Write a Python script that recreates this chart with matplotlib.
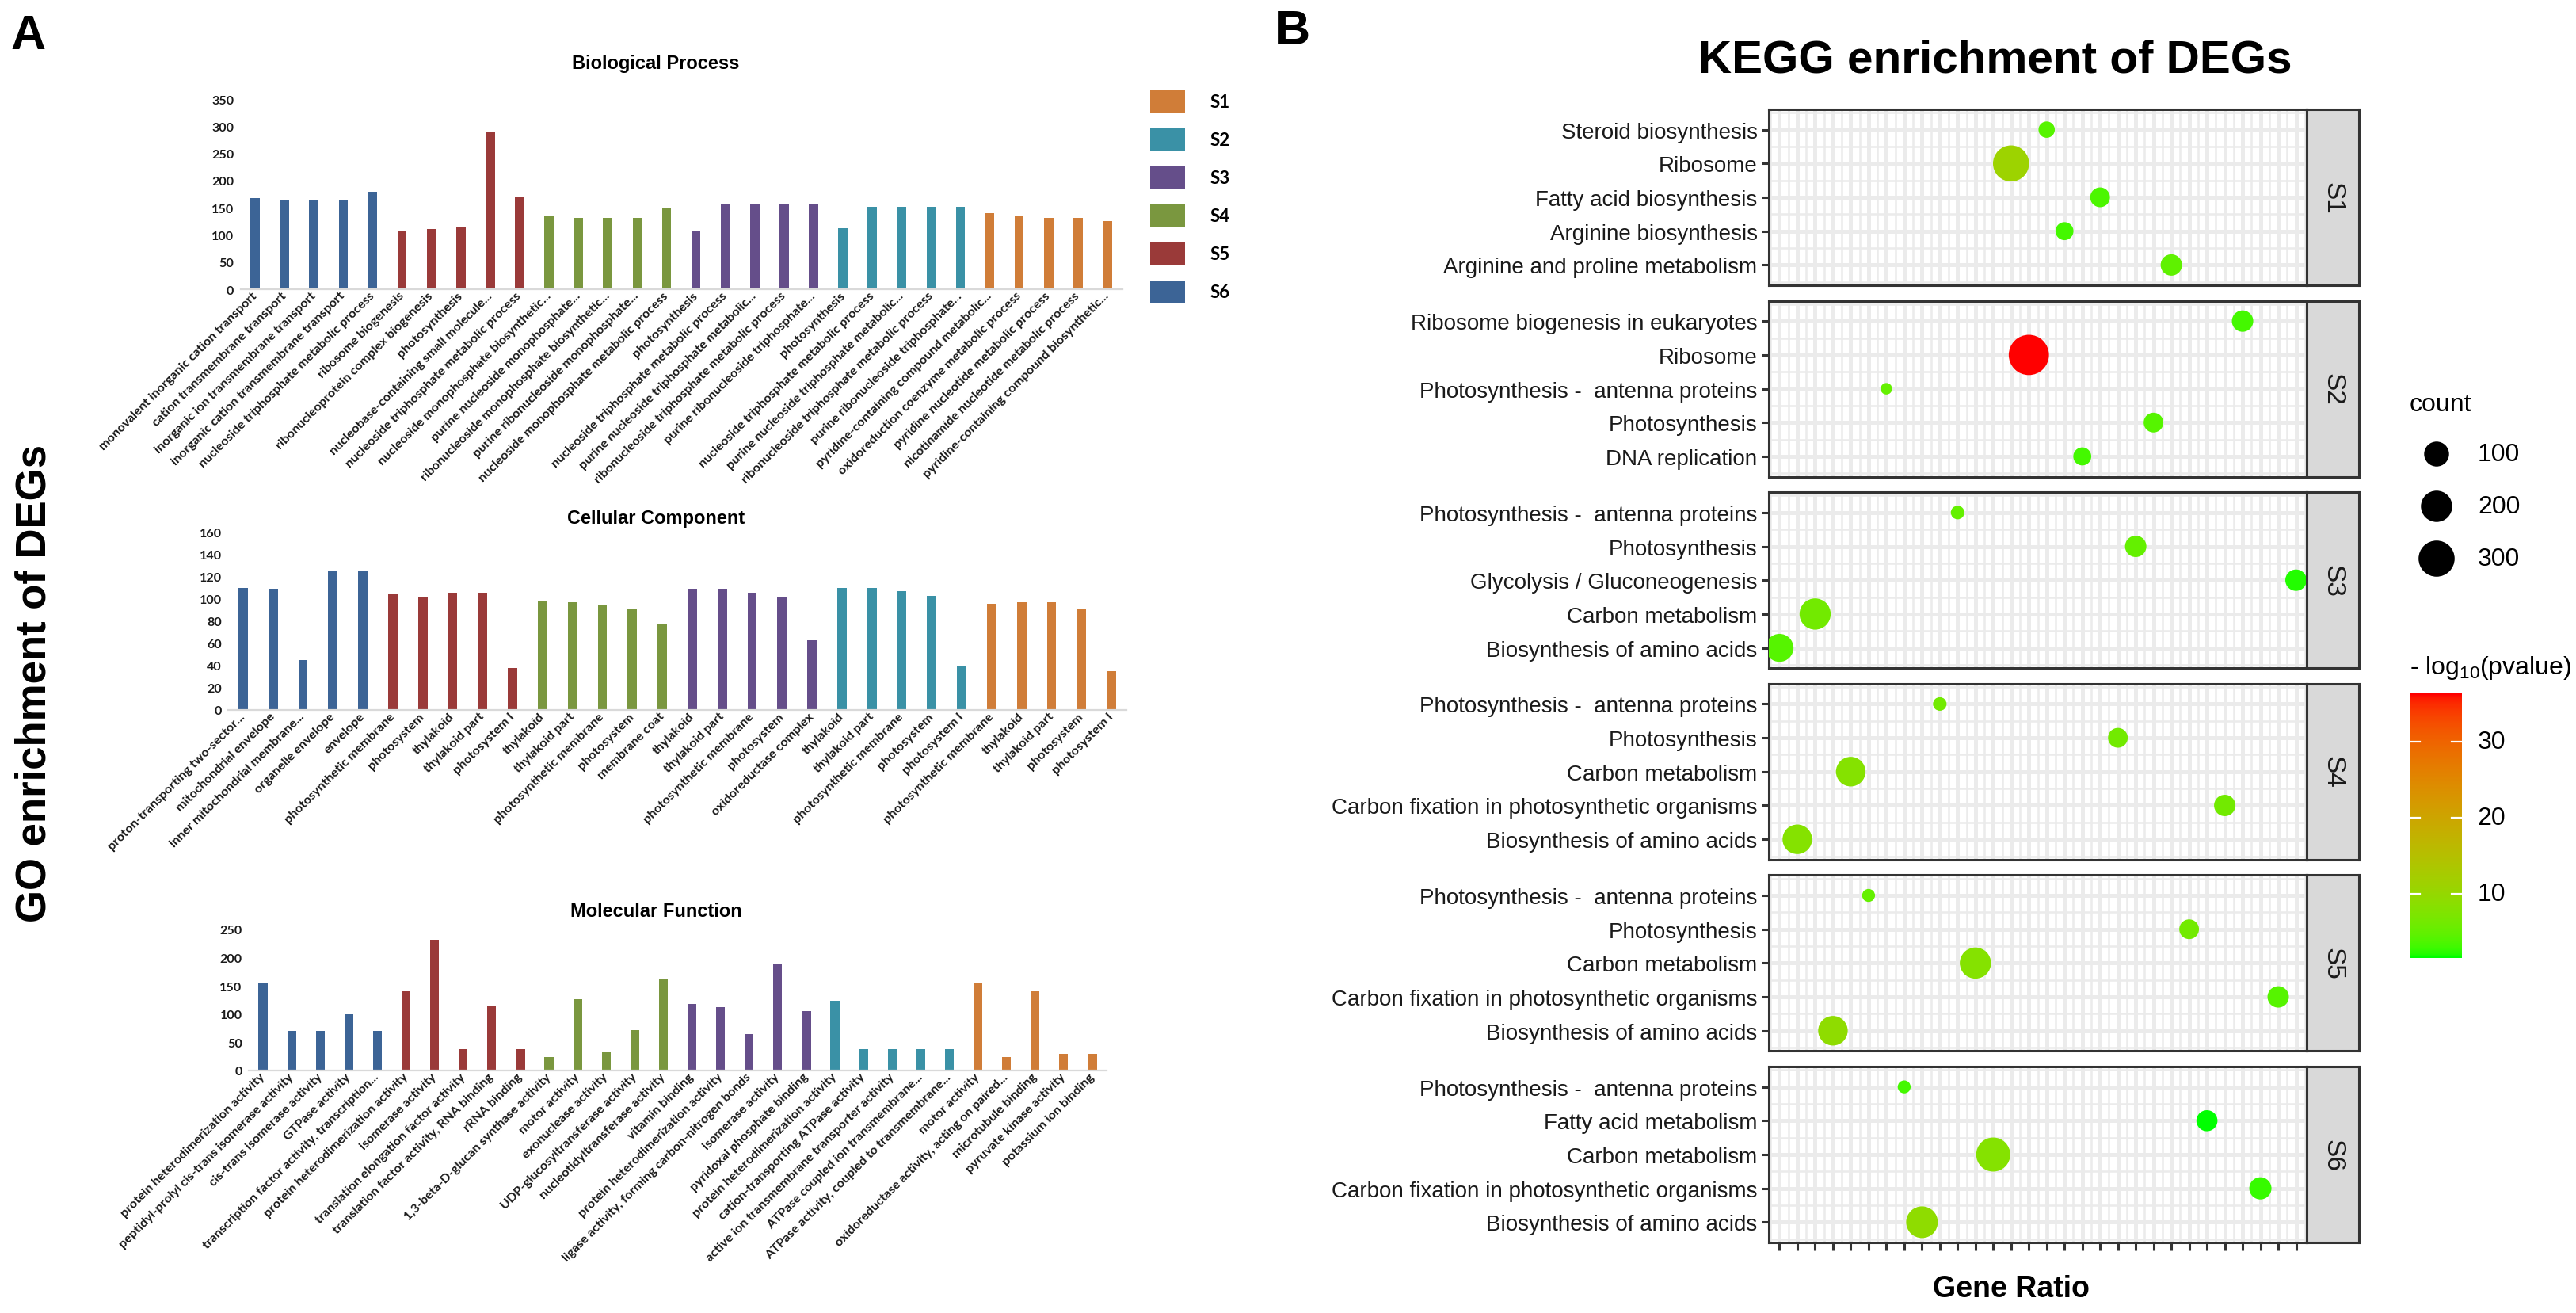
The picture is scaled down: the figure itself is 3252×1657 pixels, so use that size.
import numpy as np
import matplotlib
matplotlib.use("Agg")
import matplotlib.pyplot as plt
from matplotlib.patches import Rectangle
from matplotlib.colors import ListedColormap, Normalize

# ===================== DATA : panel A (GO enrichment bars) =====================
sample_blocks = ["S6", "S5", "S4", "S3", "S2", "S1"]      # 5 bars per block, left to right
legend_samples = ["S1", "S2", "S3", "S4", "S5", "S6"]
sample_colors = {"S1": "#D07D38", "S2": "#3A91A6", "S3": "#654E8A",
                 "S4": "#7A973F", "S5": "#9A3A39", "S6": "#3C6496"}

bp_terms = [
    "monovalent inorganic cation transport", "cation transmembrane transport",
    "inorganic ion transmembrane transport", "inorganic cation transmembrane transport",
    "nucleoside triphosphate metabolic process",
    "ribosome biogenesis", "ribonucleoprotein complex biogenesis", "photosynthesis",
    "nucleobase-containing small molecule...", "nucleoside triphosphate metabolic process",
    "nucleoside monophosphate biosynthetic...", "purine nucleoside monophosphate...",
    "ribonucleoside monophosphate biosynthetic...", "purine ribonucleoside monophosphate...",
    "nucleoside monophosphate metabolic process",
    "photosynthesis", "nucleoside triphosphate metabolic process",
    "purine nucleoside triphosphate metabolic...", "ribonucleoside triphosphate metabolic process",
    "purine ribonucleoside triphosphate...",
    "photosynthesis", "nucleoside triphosphate metabolic process",
    "purine nucleoside triphosphate metabolic...", "ribonucleoside triphosphate metabolic process",
    "purine ribonucleoside triphosphate...",
    "pyridine-containing compound metabolic...", "oxidoreduction coenzyme metabolic process",
    "pyridine nucleotide metabolic process", "nicotinamide nucleotide metabolic process",
    "pyridine-containing compound biosynthetic...",
]
bp_counts = [167, 165, 165, 165, 180,
             108, 111, 114, 289, 170,
             136, 131, 131, 131, 150,
             108, 157, 157, 157, 157,
             113, 152, 152, 152, 152,
             140, 135, 131, 131, 126]

cc_terms = [
    "proton-transporting two-sector...", "mitochondrial envelope",
    "inner mitochondrial membrane...", "organelle envelope", "envelope",
    "photosynthetic membrane", "photosystem", "thylakoid", "thylakoid part", "photosystem I",
    "thylakoid", "thylakoid part", "photosynthetic membrane", "photosystem", "membrane coat",
    "thylakoid", "thylakoid part", "photosynthetic membrane", "photosystem", "oxidoreductase complex",
    "thylakoid", "thylakoid part", "photosynthetic membrane", "photosystem", "photosystem I",
    "photosynthetic membrane", "thylakoid", "thylakoid part", "photosystem", "photosystem I",
]
cc_counts = [110, 109, 45, 126, 126,
             104, 102, 106, 106, 38,
             98, 97, 94, 91, 78,
             109, 109, 106, 102, 63,
             110, 110, 107, 103, 40,
             96, 97, 97, 91, 35]

mf_terms = [
    "protein heterodimerization activity", "peptidyl-prolyl cis-trans isomerase activity",
    "cis-trans isomerase activity", "GTPase activity",
    "transcription factor activity, transcription...",
    "protein heterodimerization activity", "isomerase activity",
    "translation elongation factor activity", "translation factor activity, RNA binding",
    "rRNA binding",
    "1,3-beta-D-glucan synthase activity", "motor activity", "exonuclease activity",
    "UDP-glucosyltransferase activity", "nucleotidyltransferase activity",
    "vitamin binding", "protein heterodimerization activity",
    "ligase activity, forming carbon-nitrogen bonds", "isomerase activity",
    "pyridoxal phosphate binding",
    "protein heterodimerization activity", "cation-transporting ATPase activity",
    "active ion transmembrane transporter activity", "ATPase coupled ion transmembrane...",
    "ATPase activity, coupled to transmembrane...",
    "motor activity", "oxidoreductase activity, acting on paired...", "microtubule binding",
    "pyruvate kinase activity", "potassium ion binding",
]
mf_counts = [156, 70, 70, 100, 70,
             141, 232, 38, 115, 38,
             24, 126, 32, 71, 162,
             118, 112, 65, 188, 106,
             123, 38, 38, 38, 38,
             156, 24, 141, 30, 30]

# ===================== DATA : panel B (KEGG bubbles) =====================
kegg_samples = ["S1", "S2", "S3", "S4", "S5", "S6"]
kegg_sample = (["S1"] * 5 + ["S2"] * 5 + ["S3"] * 5 + ["S4"] * 5 + ["S5"] * 5 + ["S6"] * 5)
kegg_term = [
    "Steroid biosynthesis", "Ribosome", "Fatty acid biosynthesis", "Arginine biosynthesis",
    "Arginine and proline metabolism",
    "Ribosome biogenesis in eukaryotes", "Ribosome", "Photosynthesis -  antenna proteins",
    "Photosynthesis", "DNA replication",
    "Photosynthesis -  antenna proteins", "Photosynthesis", "Glycolysis / Gluconeogenesis",
    "Carbon metabolism", "Biosynthesis of amino acids",
    "Photosynthesis -  antenna proteins", "Photosynthesis", "Carbon metabolism",
    "Carbon fixation in photosynthetic organisms", "Biosynthesis of amino acids",
    "Photosynthesis -  antenna proteins", "Photosynthesis", "Carbon metabolism",
    "Carbon fixation in photosynthetic organisms", "Biosynthesis of amino acids",
    "Photosynthesis -  antenna proteins", "Fatty acid metabolism", "Carbon metabolism",
    "Carbon fixation in photosynthetic organisms", "Biosynthesis of amino acids",
]
# rank (1..30) of each term's GeneRatio on the discrete x axis
kegg_ratio_rank = [16, 14, 19, 17, 23,
                   27, 15, 7, 22, 18,
                   11, 21, 30, 3, 1,
                   10, 20, 5, 26, 2,
                   6, 24, 12, 29, 4,
                   8, 25, 13, 28, 9]
kegg_count = [26, 300, 47, 35, 61,
              61, 404, 15, 47, 35,
              17, 61, 61, 198, 143,
              17, 47, 169, 61, 169,
              16, 47, 198, 61, 169,
              16, 58, 255, 69, 207]
kegg_neglog10p = [4.0, 11.0, 3.5, 3.0, 4.5,
                  3.0, 36.4, 5.0, 4.0, 3.0,
                  5.0, 5.0, 2.0, 6.0, 4.0,
                  6.0, 6.0, 8.0, 6.0, 8.0,
                  5.0, 6.0, 8.0, 4.0, 9.0,
                  3.0, 1.5, 8.0, 2.5, 9.0]
size_breaks = [100, 200, 300]
color_breaks = [10, 20, 30]

# ===================== figure helpers =====================
W, H, DPI = 3252, 1658, 200
fig = plt.figure(figsize=(W / DPI, H / DPI), dpi=DPI)
plt.rcParams["mathtext.fontset"] = "custom"
plt.rcParams["mathtext.rm"] = "Liberation Sans"
plt.rcParams["mathtext.it"] = "Liberation Sans"

ARIAL = ["Liberation Sans", "DejaVu Sans"]
CAL = ["Lato", "DejaVu Sans"]


def fx(px):
    return px / W


def fy(py):
    return 1 - py / H


def rect(l, t, r, b):
    return [fx(l), fy(b), fx(r) - fx(l), fy(t) - fy(b)]


# ===================== panel A =====================
bar_colors = [sample_colors[s] for s in sample_blocks for _ in range(5)]


def go_panel(box, terms, counts, ymax, ystep, title, title_y):
    ax = fig.add_axes(rect(*box))
    x = np.arange(len(counts))
    ax.bar(x, counts, width=0.31, color=bar_colors, edgecolor="none", zorder=2)
    ax.set_xlim(-0.5, len(counts) - 0.5)
    ax.set_ylim(0, ymax)
    ax.set_yticks(np.arange(0, ymax + 1, ystep))
    for s in ["top", "right", "left"]:
        ax.spines[s].set_visible(False)
    ax.spines["bottom"].set_color("#D9D9D9")
    ax.spines["bottom"].set_linewidth(0.8)
    ax.tick_params(axis="both", length=0)
    ax.tick_params(axis="y", pad=3)
    ax.tick_params(axis="x", pad=2)
    ax.set_xticks(x)
    ax.set_xticklabels(terms, rotation=45, ha="right", va="center", rotation_mode="anchor",
                       fontsize=5.8, fontweight="bold", family=CAL, color="#1A1A1A")
    for lab in ax.get_yticklabels():
        lab.set_fontsize(5.8)
        lab.set_fontweight("bold")
        lab.set_family(CAL)
        lab.set_color("#1A1A1A")
    fig.text(fx(828), fy(title_y), title, ha="center", va="center",
             fontsize=8.5, fontweight="bold", family=ARIAL)
    return ax


go_panel((303.5, 126, 1416.5, 366), bp_terms, bp_counts, 350, 50, "Biological Process", 80)
go_panel((288, 673, 1422, 897), cc_terms, cc_counts, 160, 20, "Cellular Component", 655)
go_panel((314, 1174, 1397, 1352), mf_terms, mf_counts, 250, 50, "Molecular Function", 1151)

# legend of panel A
for k, s in enumerate(legend_samples):
    cy = 129 + k * 48
    fig.patches.append(Rectangle((fx(1452), fy(cy + 14)), fx(1496) - fx(1452), fy(cy - 14) - fy(cy + 14),
                                 transform=fig.transFigure, facecolor=sample_colors[s], edgecolor="none"))
    fig.text(fx(1528), fy(cy), s, ha="left", va="center", fontsize=8, fontweight="bold", family=CAL)

fig.text(fx(44), fy(863), "GO enrichment of DEGs", rotation=90, ha="center", va="center",
         fontsize=19, fontweight="bold", family=ARIAL)
fig.text(fx(36), fy(47), "A", ha="center", va="center", fontsize=22, fontweight="bold", family=ARIAL)

# ===================== panel B =====================


def lab_gradient(c1, c2, n=256):
    M = np.array([[0.4124, 0.3576, 0.1805], [0.2126, 0.7152, 0.0722], [0.0193, 0.1192, 0.9505]])
    white = np.array([0.95047, 1.0, 1.08883])
    d = 6 / 29

    def to_lab(rgb):
        rgb = np.asarray(rgb, float)
        lin = np.where(rgb <= 0.04045, rgb / 12.92, ((rgb + 0.055) / 1.055) ** 2.4)
        xyz = M @ lin / white
        f = np.where(xyz > d ** 3, np.cbrt(xyz), xyz / (3 * d * d) + 4 / 29)
        return np.array([116 * f[1] - 16, 500 * (f[0] - f[1]), 200 * (f[1] - f[2])])

    def to_rgb(lab):
        L, a, b = lab
        fyv = (L + 16) / 116
        f = np.array([fyv + a / 500, fyv, fyv - b / 200])
        xyz = np.where(f > d, f ** 3, 3 * d * d * (f - 4 / 29)) * white
        lin = np.clip(np.linalg.inv(M) @ xyz, 0, 1)
        rgb = np.where(lin <= 0.0031308, 12.92 * lin, 1.055 * lin ** (1 / 2.4) - 0.055)
        return np.clip(rgb, 0, 1)

    l1, l2 = to_lab(c1), to_lab(c2)
    return ListedColormap([to_rgb(l1 + (l2 - l1) * t) for t in np.linspace(0, 1, n)])


cmap = lab_gradient((0, 1, 0), (1, 0, 0))
norm = Normalize(vmin=min(kegg_neglog10p), vmax=max(kegg_neglog10p))
cmin = min(kegg_count)


def dot_area(c):
    d_px = 14.5 + 1.84 * np.sqrt(np.maximum(np.asarray(c, float) - cmin, 0))
    return (d_px * 72 / DPI) ** 2


PL, PR, SR = 2233, 2912, 2978
TOP0, FH, GAP = 139, 222, 19.6
DARK = "#333333"
for k, s in enumerate(kegg_samples):
    top = TOP0 + k * (FH + GAP)
    ax = fig.add_axes(rect(PL, top, PR, top + FH))
    idx = [i for i in range(len(kegg_sample)) if kegg_sample[i] == s]
    terms = [kegg_term[i] for i in idx]
    ypos = np.arange(len(terms), 0, -1)
    ax.scatter([kegg_ratio_rank[i] for i in idx], ypos,
               s=dot_area([kegg_count[i] for i in idx]),
               c=[kegg_neglog10p[i] for i in idx], cmap=cmap, norm=norm,
               edgecolors="none", zorder=3)
    ax.set_xlim(0.4, 30.6)
    ax.set_ylim(0.4, 5.6)
    ax.set_xticks(np.arange(1, 31))
    ax.set_xticks(np.arange(0.5, 31, 1.0), minor=True)
    ax.set_yticks(ypos)
    ax.set_yticks(np.arange(0.5, 6, 1.0), minor=True)
    ax.set_yticklabels(terms, fontsize=10, family=ARIAL, color="#1A1A1A")
    ax.grid(True, which="major", color="#EBEBEB", linewidth=1.8, zorder=0)
    ax.grid(True, which="minor", color="#EBEBEB", linewidth=0.9, zorder=0)
    ax.set_axisbelow(True)
    for sp in ax.spines.values():
        sp.set_color(DARK)
        sp.set_linewidth(1.1)
    ax.tick_params(axis="y", length=3.2, width=1.1, color=DARK, pad=2)
    ax.tick_params(which="minor", length=0)
    if k == len(kegg_samples) - 1:
        ax.tick_params(axis="x", length=3.5, width=1.1, color=DARK, labelbottom=False)
    else:
        ax.tick_params(axis="x", length=0, labelbottom=False)
    sax = fig.add_axes(rect(PR, top, SR, top + FH))
    sax.set_facecolor("#D9D9D9")
    sax.set_xticks([])
    sax.set_yticks([])
    for sp in sax.spines.values():
        sp.set_color(DARK)
        sp.set_linewidth(1.1)
    sax.text(0.5, 0.5, s, rotation=270, ha="center", va="center", fontsize=12,
             family=ARIAL, color="#1A1A1A", transform=sax.transAxes)

fig.text(fx(2539), fy(1627), "Gene Ratio", ha="center", va="center", fontsize=13.5,
         fontweight="bold", family=ARIAL)
fig.text(fx(2519), fy(77), "KEGG enrichment of DEGs", ha="center", va="center", fontsize=21,
         fontweight="bold", family=ARIAL)
fig.text(fx(1632), fy(40), "B", ha="center", va="center", fontsize=22, fontweight="bold", family=ARIAL)

# size legend
fig.text(fx(3042), fy(511), "count", ha="left", va="center", fontsize=11.5, family=ARIAL)
lax = fig.add_axes(rect(3030, 540, 3200, 740))
lax.set_xlim(3030, 3200)
lax.set_ylim(740, 540)
lax.axis("off")
for j, b in enumerate(size_breaks):
    y = 574 + j * 66
    lax.scatter([3076], [y], s=dot_area(b), color="black", edgecolors="none")
    lax.text(3128, y, str(b), ha="left", va="center", fontsize=11.5, family=ARIAL)

# colour legend
fig.text(fx(3042), fy(843), r"- log$_{10}$(pvalue)", ha="left", va="center", fontsize=11.5, family=ARIAL)
cax = fig.add_axes(rect(3042, 876, 3108, 1210))
grad = np.linspace(norm.vmin, norm.vmax, 300).reshape(-1, 1)
cax.imshow(grad, aspect="auto", cmap=cmap, norm=norm, origin="lower",
           extent=(0, 1, norm.vmin, norm.vmax))
cax.set_xlim(0, 1)
cax.set_ylim(norm.vmin, norm.vmax)
cax.set_xticks([])
cax.set_yticks([])
for sp in cax.spines.values():
    sp.set_visible(False)
for b in color_breaks:
    cax.plot([0, 0.2], [b, b], color="white", lw=0.8)
    cax.plot([0.8, 1], [b, b], color="white", lw=0.8)
    cax.text(1.3, b, str(b), ha="left", va="center", fontsize=11.5, family=ARIAL, clip_on=False)

fig.savefig("out.png", dpi=DPI)
